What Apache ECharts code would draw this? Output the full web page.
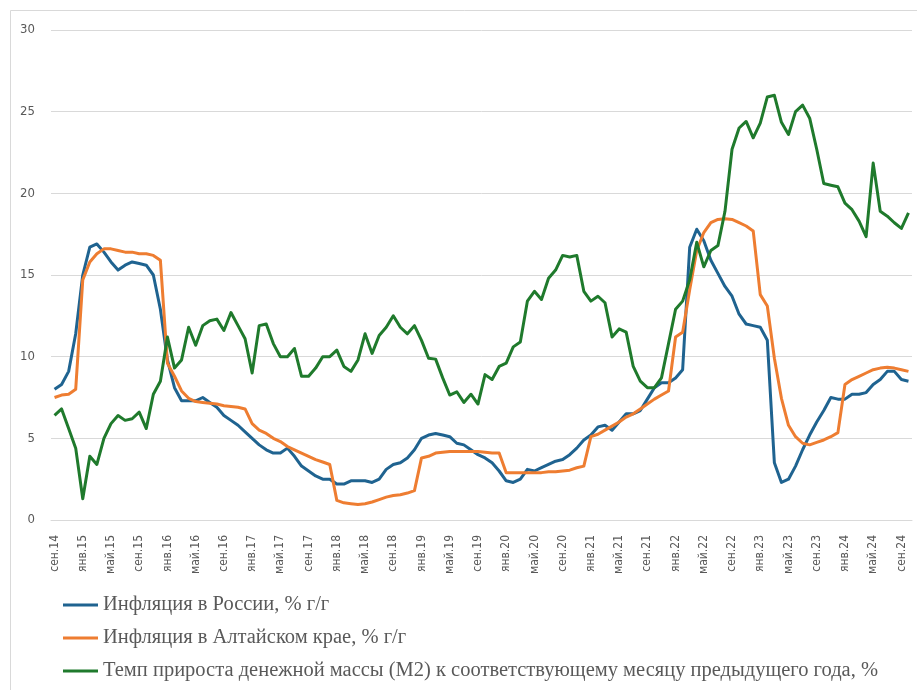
<!DOCTYPE html>
<html>
<head>
<meta charset="utf-8">
<script src="https://cdn.jsdelivr.net/npm/echarts@6/dist/echarts.min.js"></script>
<style>
  html, body { margin: 0; padding: 0; background: #fff; }
  #chart { width: 917px; height: 690px; }
</style>
</head>
<body>
<div id="chart"></div>
<script>
// месяцы: сен.14 ... окт.24
const monthNames = ['янв', 'фев', 'мар', 'апр', 'май', 'июн', 'июл', 'авг', 'сен', 'окт', 'ноя', 'дек']
const months = []
for (let y = 14, m = 8; y < 24 || (y === 24 && m <= 9);) {
  months.push(monthNames[m] + '.' + y)
  m++
  if (m === 12) { m = 0; y++ }
}

// Инфляция в России, % г/г
const russia = [
  8.0, 8.3, 9.1, 11.4,
  15.0, 16.7, 16.9, 16.4, 15.8, 15.3, 15.6, 15.8, 15.7, 15.6, 15.0, 12.9,
  9.8, 8.1, 7.3, 7.3, 7.3, 7.5, 7.2, 6.9, 6.4, 6.1, 5.8, 5.4,
  5.0, 4.6, 4.3, 4.1, 4.1, 4.4, 3.9, 3.3, 3.0, 2.7, 2.5, 2.5,
  2.2, 2.2, 2.4, 2.4, 2.4, 2.3, 2.5, 3.1, 3.4, 3.5, 3.8, 4.3,
  5.0, 5.2, 5.3, 5.2, 5.1, 4.7, 4.6, 4.3, 4.0, 3.8, 3.5, 3.0,
  2.4, 2.3, 2.5, 3.1, 3.0, 3.2, 3.4, 3.6, 3.7, 4.0, 4.4, 4.9,
  5.2, 5.7, 5.8, 5.5, 6.0, 6.5, 6.5, 6.7, 7.4, 8.1, 8.4, 8.4,
  8.7, 9.2, 16.7, 17.8, 17.1, 15.9, 15.1, 14.3, 13.7, 12.6, 12.0, 11.9,
  11.8, 11.0, 3.5, 2.3, 2.5, 3.3, 4.3, 5.2, 6.0, 6.7, 7.5, 7.4,
  7.4, 7.7, 7.7, 7.8, 8.3, 8.6, 9.1, 9.1, 8.6, 8.5
]

// Инфляция в Алтайском крае, % г/г
const altai = [
  7.5, 7.65, 7.7, 8.0,
  14.7, 15.8, 16.3, 16.6, 16.6, 16.5, 16.4, 16.4, 16.3, 16.3, 16.2, 15.9,
  9.6, 8.8, 7.9, 7.45, 7.25, 7.2, 7.15, 7.1, 7.0, 6.95, 6.9, 6.8,
  5.9, 5.5, 5.3, 5.0, 4.8, 4.5, 4.3, 4.1, 3.9, 3.7, 3.55, 3.4,
  1.2, 1.05, 1.0, 0.95, 1.0, 1.1, 1.25, 1.4, 1.5, 1.55, 1.65, 1.8,
  3.8, 3.9, 4.1, 4.15, 4.2, 4.2, 4.2, 4.2, 4.2, 4.15, 4.1, 4.1,
  2.9, 2.9, 2.9, 2.9, 2.9, 2.9, 2.95, 2.95, 3.0, 3.05, 3.2, 3.3,
  5.1, 5.25, 5.5, 5.75, 6.0, 6.3, 6.5, 6.8, 7.1, 7.4, 7.65, 7.9,
  11.2, 11.5, 14.1, 16.5, 17.6, 18.2, 18.4, 18.45, 18.4, 18.2, 18.0, 17.7,
  13.8, 13.1, 9.9, 7.45, 5.8, 5.1, 4.7, 4.6, 4.75, 4.9, 5.1, 5.35,
  8.3, 8.6, 8.8, 9.0, 9.2, 9.3, 9.35, 9.3, 9.2, 9.1
]

// Темп прироста денежной массы (М2), %
const m2 = [
  6.4, 6.8, 5.6, 4.4,
  1.3, 3.9, 3.4, 5.0, 5.9, 6.4, 6.1, 6.2, 6.6, 5.6, 7.7, 8.5,
  11.2, 9.3, 9.8, 11.8, 10.7, 11.9, 12.2, 12.3, 11.6, 12.7, 11.9, 11.1,
  9.0, 11.9, 12.0, 10.8, 10.0, 10.0, 10.5, 8.8, 8.8, 9.3, 10.0, 10.0,
  10.4, 9.4, 9.1, 9.8, 11.4, 10.2, 11.3, 11.8, 12.5, 11.8, 11.4, 11.9,
  11.0, 9.9, 9.85, 8.7, 7.65, 7.85, 7.2, 7.7, 7.1, 8.9, 8.6, 9.4,
  9.6, 10.6, 10.9, 13.4, 14.0, 13.5, 14.8, 15.3, 16.2, 16.1, 16.2, 14.0,
  13.4, 13.7, 13.3, 11.2, 11.7, 11.5, 9.4, 8.5, 8.1, 8.1, 8.7, 10.8,
  12.9, 13.4, 14.7, 17.0, 15.5, 16.5, 16.8, 18.9, 22.7, 24.0, 24.4, 23.4,
  24.3, 25.9, 26.0, 24.35, 23.6, 25.0, 25.4, 24.6, 22.7, 20.6, 20.5, 20.4,
  19.4, 19.0, 18.3, 17.35, 21.85, 18.9, 18.6, 18.2, 17.85, 18.8
]

const names = [
  'Инфляция в России, % г/г',
  'Инфляция в Алтайском крае, % г/г',
  'Темп прироста денежной массы (М2) к соответствующему месяцу предыдущего года, %'
]
const colors = ['#1f6390', '#ee7d31', '#1f7a2c']

const narrow = '"Liberation Sans Narrow", "DejaVu Sans Condensed", "Arial Narrow", sans-serif'

const chart = echarts.init(document.getElementById('chart'))

const option = {
  animation: false,
  backgroundColor: '#fff',
  color: colors,
  graphic: [{
    type: 'rect',
    shape: { x: 10.5, y: 10.5, width: 940, height: 720 },
    style: { fill: 'none', stroke: '#d9d9d9', lineWidth: 1 },
    silent: true
  }],
  grid: { left: 51, right: 5, top: 30, bottom: 170 },
  legend: {
    orient: 'vertical',
    left: 58,
    top: 589,
    itemWidth: 35,
    itemHeight: 3,
    itemGap: 11,
    icon: 'rect',
    data: names,
    textStyle: {
      fontFamily: '"Liberation Serif", "Times New Roman", serif',
      fontSize: 20.5,
      lineHeight: 22,
      color: '#595959'
    }
  },
  xAxis: {
    type: 'category',
    data: months,
    boundaryGap: true,
    axisLine: { lineStyle: { color: '#d9d9d9' } },
    axisTick: { interval: 3, length: 5, lineStyle: { color: '#d9d9d9' } },
    axisLabel: {
      interval: 3,
      rotate: 90,
      margin: 15,
      fontFamily: narrow,
      fontSize: 12,
      color: '#595959'
    }
  },
  yAxis: {
    type: 'value',
    min: 0,
    max: 30,
    interval: 5,
    axisLine: { show: false },
    axisTick: { show: false },
    axisLabel: { margin: 16, fontFamily: narrow, fontSize: 13, color: '#595959' },
    splitLine: { lineStyle: { color: '#d9d9d9' } }
  },
  series: [
    { name: names[0], type: 'line', data: russia },
    { name: names[1], type: 'line', data: altai },
    { name: names[2], type: 'line', data: m2 }
  ].map((s, i) => ({
    ...s,
    symbol: 'none',
    lineStyle: { width: 3, color: colors[i], join: 'round' },
    itemStyle: { color: colors[i] }
  }))
}

chart.setOption(option)
</script>
</body>
</html>
